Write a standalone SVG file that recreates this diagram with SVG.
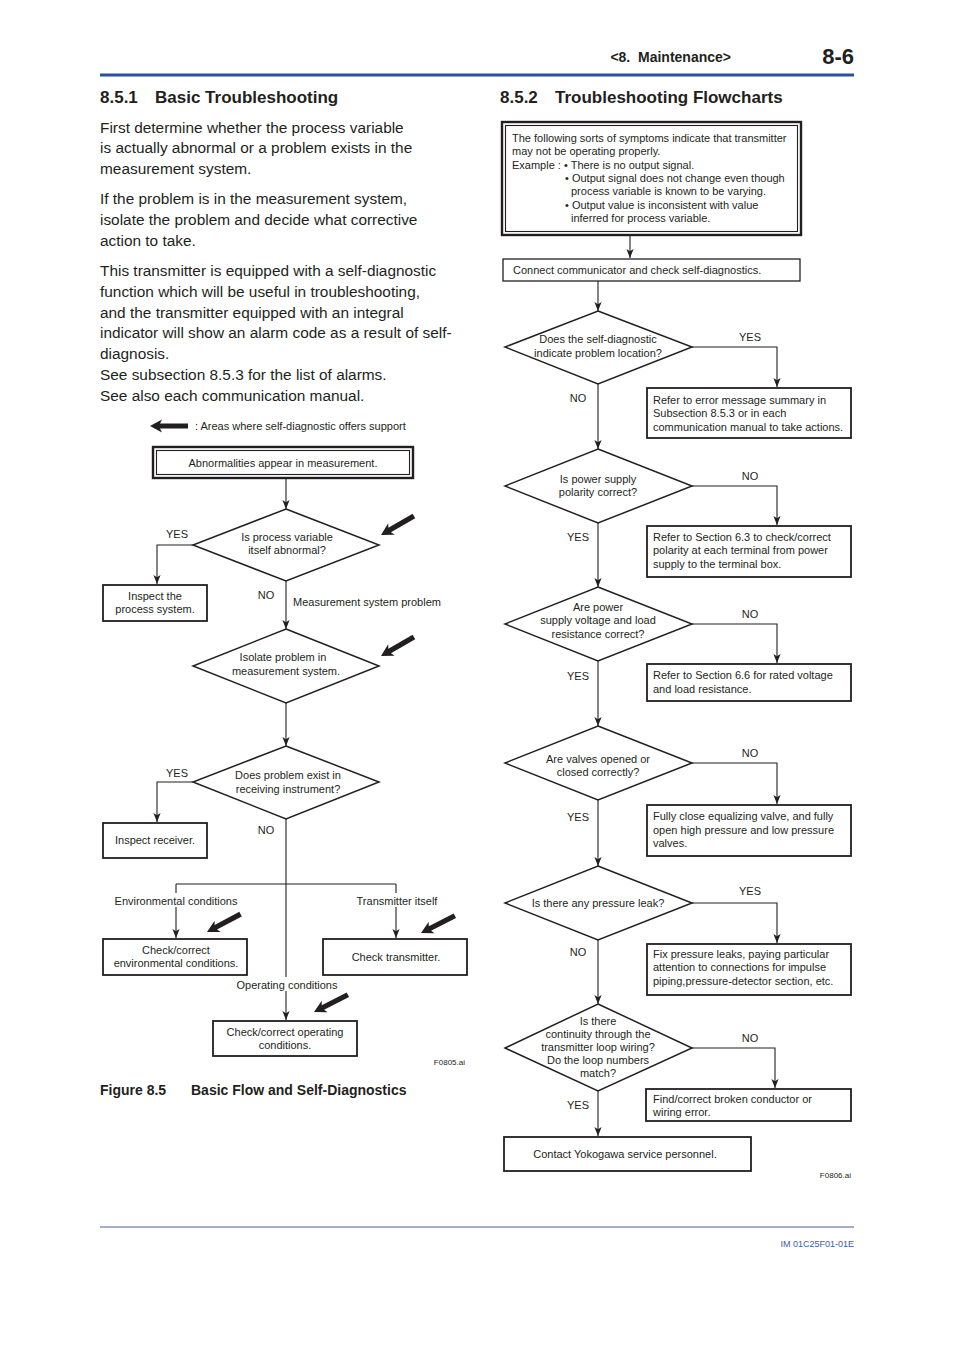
<svg xmlns="http://www.w3.org/2000/svg" width="954" height="1350" viewBox="0 0 954 1350">
<style>
text{font-family:"Liberation Sans",Arial,sans-serif;fill:#231f20}
.t{font-size:11px}
.c{text-anchor:middle}
.body{font-size:15.4px}
.h{font-size:17px;font-weight:bold}
.box{fill:#fff;stroke:#231f20;stroke-width:1.8}
.dia{fill:#fff;stroke:#231f20;stroke-width:1.5}
.ln{fill:none;stroke:#231f20;stroke-width:1.1}
.ar{marker-end:url(#ah)}
.big{fill:#231f20}
.bg{fill:#fff}
</style>
<defs>
<marker id="ah" markerUnits="userSpaceOnUse" viewBox="0 0 10 8" refX="10" refY="4" markerWidth="9" markerHeight="8" orient="auto">
<path d="M0,0 L10,4 L0,8 L2.5,4 z" fill="#231f20"/>
</marker>
<path id="bigarrow" d="M0,0 L-12,-6.5 L-10,-2.6 L-38,-2.6 L-38,2.6 L-10,2.6 L-12,6.5 z"/>
</defs>
<rect width="954" height="1350" fill="#fff"/>

<!-- header -->
<text x="731" y="62" font-size="14" font-weight="bold" text-anchor="end" xml:space="preserve">&lt;8.  Maintenance&gt;</text>
<text x="854" y="64" font-size="22" font-weight="bold" text-anchor="end">8-6</text>
<rect x="100" y="73.5" width="754" height="3" fill="#2c4ea2"/>
<text x="100" y="103" class="h">8.5.1</text>
<text x="155" y="103" class="h">Basic Troubleshooting</text>
<text x="500" y="103" class="h">8.5.2</text>
<text x="555" y="103" class="h">Troubleshooting Flowcharts</text>

<!-- body text -->
<g class="body">
<text x="100" y="133" class="body">First determine whether the process variable</text>
<text x="100" y="153" class="body">is actually abnormal or a problem exists in the</text>
<text x="100" y="174" class="body">measurement system.</text>
<text x="100" y="204" class="body">If the problem is in the measurement system,</text>
<text x="100" y="225" class="body">isolate the problem and decide what corrective</text>
<text x="100" y="246" class="body">action to take.</text>
<text x="100" y="276" class="body">This transmitter is equipped with a self-diagnostic</text>
<text x="100" y="297" class="body">function which will be useful in troubleshooting,</text>
<text x="100" y="318" class="body">and the transmitter equipped with an integral</text>
<text x="100" y="338" class="body">indicator will show an alarm code as a result of self-</text>
<text x="100" y="359" class="body">diagnosis.</text>
<text x="100" y="380" class="body">See subsection 8.5.3 for the list of alarms.</text>
<text x="100" y="401" class="body">See also each communication manual.</text>
</g>

<!-- LEFT FLOWCHART: connectors -->
<g id="left-connectors">
<path class="ln ar" d="M286,478 V509"/>
<path class="ln ar" d="M193,545 H157 V584"/>
<path class="ln ar" d="M286,581 V629"/>
<path class="ln ar" d="M286,703 V746"/>
<path class="ln ar" d="M193,782 H157 V822"/>
<path class="ln ar" d="M286,819 V1020"/>
<path class="ln" d="M176,884 H396"/>
<path class="ln ar" d="M176,884 V938"/>
<path class="ln ar" d="M396,884 V938"/>
</g>
<g id="left-labels" class="t">
<text x="177" y="538" class="t c">YES</text>
<text x="266" y="599" class="t c">NO</text>
<text x="293" y="606" class="t">Measurement system problem</text>
<text x="177" y="777" class="t c">YES</text>
<text x="266" y="834" class="t c">NO</text>
<rect class="bg" x="112" y="893" width="128" height="14"/>
<text x="176" y="905" class="t c">Environmental conditions</text>
<rect class="bg" x="354" y="893" width="86" height="14"/>
<text x="397" y="905" class="t c">Transmitter itself</text>
<rect class="bg" x="234" y="977" width="106" height="14"/>
<text x="287" y="989" class="t c">Operating conditions</text>
</g>

<g id="legend">
<use href="#bigarrow" class="big" transform="translate(150,426) rotate(180)"/>
<text x="195" y="430" class="t">: Areas where self-diagnostic offers support</text>
</g>

<g id="n-abnormal">
<rect x="153" y="447" width="260" height="31" fill="#fff" stroke="#231f20" stroke-width="2.4"/>
<rect x="156.5" y="450.5" width="253" height="24" fill="none" stroke="#231f20" stroke-width="1.1"/>
<text x="283" y="467" class="t c">Abnormalities appear in measurement.</text>
</g>
<g id="n-pv">
<polygon class="dia" points="286,509 379,545 286,581 193,545"/>
<text x="287" y="541" class="t c">Is process variable</text>
<text x="287" y="554" class="t c">itself abnormal?</text>
<use href="#bigarrow" class="big" transform="translate(381,535) rotate(150)"/>
</g>
<g id="n-inspect-process">
<rect class="box" x="103" y="585" width="104" height="36"/>
<text x="155" y="600" class="t c">Inspect the</text>
<text x="155" y="613" class="t c">process system.</text>
</g>
<g id="n-isolate">
<polygon class="dia" points="286,629 379,666 286,703 193,666"/>
<text x="283" y="661" class="t c">Isolate problem in</text>
<text x="286" y="675" class="t c">measurement system.</text>
<use href="#bigarrow" class="big" transform="translate(381,656) rotate(150)"/>
</g>
<g id="n-receiving">
<polygon class="dia" points="286,746 379,782 286,819 193,782"/>
<text x="288" y="779" class="t c">Does problem exist in</text>
<text x="288" y="793" class="t c">receiving instrument?</text>
</g>
<g id="n-inspect-receiver">
<rect class="box" x="103" y="823" width="104" height="35"/>
<text x="155" y="844" class="t c">Inspect receiver.</text>
</g>
<g id="n-env">
<rect class="box" x="103" y="939" width="144" height="36"/>
<text x="176" y="954" class="t c">Check/correct</text>
<text x="176" y="967" class="t c">environmental conditions.</text>
<use href="#bigarrow" class="big" transform="translate(207,932) rotate(152)"/>
</g>
<g id="n-transmitter">
<rect class="box" x="323" y="939" width="144" height="36"/>
<text x="396" y="961" class="t c">Check transmitter.</text>
<use href="#bigarrow" class="big" transform="translate(421,933) rotate(153)"/>
</g>
<g id="n-operating">
<rect class="box" x="213" y="1021" width="144" height="35"/>
<text x="285" y="1036" class="t c">Check/correct operating</text>
<text x="285" y="1049" class="t c">conditions.</text>
<use href="#bigarrow" class="big" transform="translate(314,1012) rotate(153)"/>
</g>
<text x="465" y="1065" font-size="8" text-anchor="end">F0805.ai</text>
<text x="100" y="1095" font-size="14" font-weight="bold">Figure 8.5</text>
<text x="191" y="1095" font-size="14" font-weight="bold">Basic Flow and Self-Diagnostics</text>

<!-- RIGHT FLOWCHART: connectors -->
<g id="right-connectors">
<path class="ln ar" d="M630,235 V258"/>
<path class="ln ar" d="M598,281 V311"/>
<path class="ln ar" d="M692,347 H777 V387"/>
<path class="ln ar" d="M598,384 V449"/>
<path class="ln ar" d="M692,486 H777 V525"/>
<path class="ln ar" d="M598,523 V587"/>
<path class="ln ar" d="M692,624 H777 V663"/>
<path class="ln ar" d="M598,661 V726"/>
<path class="ln ar" d="M692,763 H777 V804"/>
<path class="ln ar" d="M598,800 V866"/>
<path class="ln ar" d="M692,903 H777 V943"/>
<path class="ln ar" d="M598,940 V1004"/>
<path class="ln ar" d="M692,1048 H775 V1088"/>
<path class="ln ar" d="M598,1091 V1136"/>
</g>
<g id="right-labels">
<text x="750" y="341" class="t c">YES</text>
<text x="578" y="402" class="t c">NO</text>
<text x="750" y="480" class="t c">NO</text>
<text x="578" y="541" class="t c">YES</text>
<text x="750" y="618" class="t c">NO</text>
<text x="578" y="680" class="t c">YES</text>
<text x="750" y="757" class="t c">NO</text>
<text x="578" y="821" class="t c">YES</text>
<text x="750" y="895" class="t c">YES</text>
<text x="578" y="956" class="t c">NO</text>
<text x="750" y="1042" class="t c">NO</text>
<text x="578" y="1109" class="t c">YES</text>
</g>

<g id="r-symptoms">
<rect x="502" y="122" width="299" height="113" fill="#fff" stroke="#231f20" stroke-width="2.4"/>
<rect x="505.5" y="125.5" width="292" height="106" fill="none" stroke="#231f20" stroke-width="1.1"/>
<text x="512" y="142" class="t">The following sorts of symptoms indicate that transmitter</text>
<text x="512" y="155" class="t">may not be operating properly.</text>
<text x="512" y="169" class="t">Example : • There is no output signal.</text>
<text x="565" y="182" class="t">• Output signal does not change even though</text>
<text x="571" y="195" class="t">process variable is known to be varying.</text>
<text x="565" y="209" class="t">• Output value is inconsistent with value</text>
<text x="571" y="222" class="t">inferred for process variable.</text>
</g>
<g id="r-connect">
<rect x="503" y="259" width="297" height="22" fill="#fff" stroke="#231f20" stroke-width="1.3"/>
<text x="513" y="274" class="t">Connect communicator and check self-diagnostics.</text>
</g>
<g id="r-q1">
<polygon class="dia" points="598,311 692,347 598,384 505,347"/>
<text x="598" y="343" class="t c">Does the self-diagnostic</text>
<text x="598" y="357" class="t c">indicate problem location?</text>
</g>
<g id="r-a1">
<rect class="box" x="647" y="388" width="204" height="50"/>
<text x="653" y="404" class="t">Refer to error message summary in</text>
<text x="653" y="417" class="t">Subsection 8.5.3 or in each</text>
<text x="653" y="431" class="t">communication manual to take actions.</text>
</g>
<g id="r-q2">
<polygon class="dia" points="598,449 692,486 598,523 505,486"/>
<text x="598" y="483" class="t c">Is power supply</text>
<text x="598" y="496" class="t c">polarity correct?</text>
</g>
<g id="r-a2">
<rect class="box" x="647" y="526" width="204" height="51"/>
<text x="653" y="541" class="t">Refer to Section 6.3 to check/correct</text>
<text x="653" y="554" class="t">polarity at each terminal from power</text>
<text x="653" y="568" class="t">supply to the terminal box.</text>
</g>
<g id="r-q3">
<polygon class="dia" points="598,587 692,624 598,661 505,624"/>
<text x="598" y="611" class="t c">Are power</text>
<text x="598" y="624" class="t c">supply voltage and load</text>
<text x="598" y="638" class="t c">resistance correct?</text>
</g>
<g id="r-a3">
<rect class="box" x="647" y="664" width="204" height="37"/>
<text x="653" y="679" class="t">Refer to Section 6.6 for rated voltage</text>
<text x="653" y="693" class="t">and load resistance.</text>
</g>
<g id="r-q4">
<polygon class="dia" points="598,726 692,763 598,800 505,763"/>
<text x="598" y="763" class="t c">Are valves opened or</text>
<text x="598" y="776" class="t c">closed correctly?</text>
</g>
<g id="r-a4">
<rect class="box" x="647" y="805" width="204" height="51"/>
<text x="653" y="820" class="t">Fully close equalizing valve, and fully</text>
<text x="653" y="834" class="t">open high pressure and low pressure</text>
<text x="653" y="847" class="t">valves.</text>
</g>
<g id="r-q5">
<polygon class="dia" points="598,866 692,903 598,940 505,903"/>
<text x="598" y="907" class="t c">Is there any pressure leak?</text>
</g>
<g id="r-a5">
<rect class="box" x="647" y="944" width="204" height="51"/>
<text x="653" y="958" class="t">Fix pressure leaks, paying particular</text>
<text x="653" y="971" class="t">attention to connections for impulse</text>
<text x="653" y="985" class="t">piping,pressure-detector section, etc.</text>
</g>
<g id="r-q6">
<polygon class="dia" points="598,1004 692,1048 598,1091 505,1048"/>
<text x="598" y="1025" class="t c">Is there</text>
<text x="598" y="1038" class="t c">continuity through the</text>
<text x="598" y="1051" class="t c">transmitter loop wiring?</text>
<text x="598" y="1064" class="t c">Do the loop numbers</text>
<text x="598" y="1077" class="t c">match?</text>
</g>
<g id="r-a6">
<rect class="box" x="646" y="1089" width="205" height="32"/>
<text x="653" y="1103" class="t">Find/correct broken conductor or</text>
<text x="653" y="1116" class="t">wiring error.</text>
</g>
<g id="r-contact">
<rect class="box" x="504" y="1137" width="247" height="34"/>
<text x="625" y="1158" class="t c">Contact Yokogawa service personnel.</text>
</g>
<text x="851" y="1178" font-size="8" text-anchor="end">F0806.ai</text>

<!-- footer -->
<rect x="100" y="1226.5" width="754" height="1" fill="#4a5f9e"/>
<text x="854" y="1247" font-size="9" text-anchor="end" style="fill:#3a5bb0">IM 01C25F01-01E</text>
</svg>
